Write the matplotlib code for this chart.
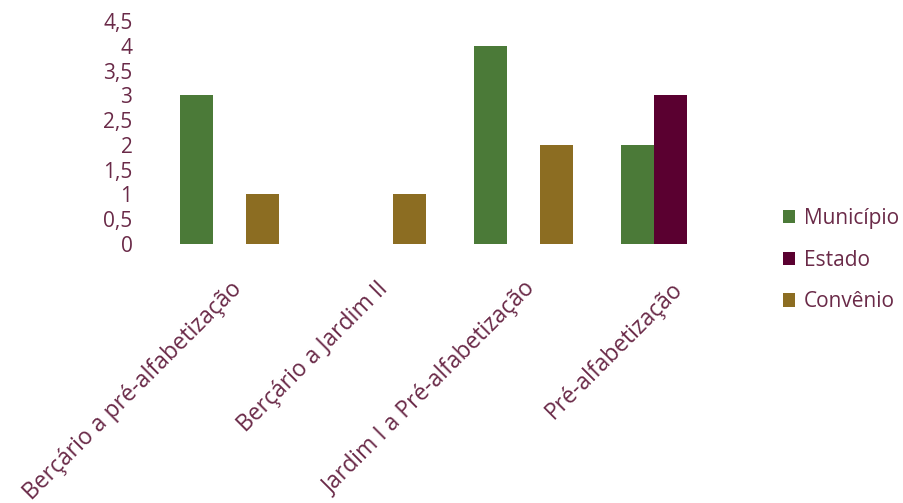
import matplotlib
matplotlib.use("Agg")
import numpy as np
import matplotlib.pyplot as plt
from matplotlib.ticker import FuncFormatter

categorias = ["Berçário a pré-alfabetização", "Berçário a Jardim II",
              "Jardim I a Pré-alfabetização", "Pré-alfabetização"]
municipio = [3, 0, 4, 2]
estado = [0, 0, 0, 3]
convenio = [1, 1, 2, 0]
series = ["Município", "Estado", "Convênio"]

cor_texto = "#6A2A48"
cores = ["#4B7A38", "#5A0030", "#8C6D22"]

plt.rcParams["font.family"] = ["Open Sans", "DejaVu Sans"]

fig = plt.figure(figsize=(9.04, 5.03), dpi=100)
ax = fig.add_axes([156 / 904, (503 - 244) / 503, 588 / 904, 223 / 503])

x = np.arange(len(categorias))
w = 0.225
for i, (nome, vals) in enumerate(zip(series, [municipio, estado, convenio])):
    ax.bar(x + (i - 1) * w, vals, w, color=cores[i], label=nome)

ax.set_xlim(-0.5, 3.5)
ax.set_ylim(0, 4.5)
ax.set_yticks(np.arange(0, 4.51, 0.5))
ax.yaxis.set_major_formatter(FuncFormatter(lambda v, p: f"{v:g}".replace(".", ",")))
ax.tick_params(axis="y", length=0, pad=17, labelsize=15, labelcolor=cor_texto)
ax.set_xticks(x)
ax.set_xticklabels(categorias, rotation=45, ha="right", va="top",
                   rotation_mode="anchor", fontsize=16.5, color=cor_texto)
ax.tick_params(axis="x", length=0, pad=24)
for s in ax.spines.values():
    s.set_visible(False)

fig.legend(loc="center left", bbox_to_anchor=(764 / 904, 1 - 260 / 503),
           frameon=False, fontsize=15, labelcolor=cor_texto,
           handlelength=0.6, handleheight=0.6, handletextpad=0.4, labelspacing=1.0)

fig.savefig("out.png", dpi=100)
